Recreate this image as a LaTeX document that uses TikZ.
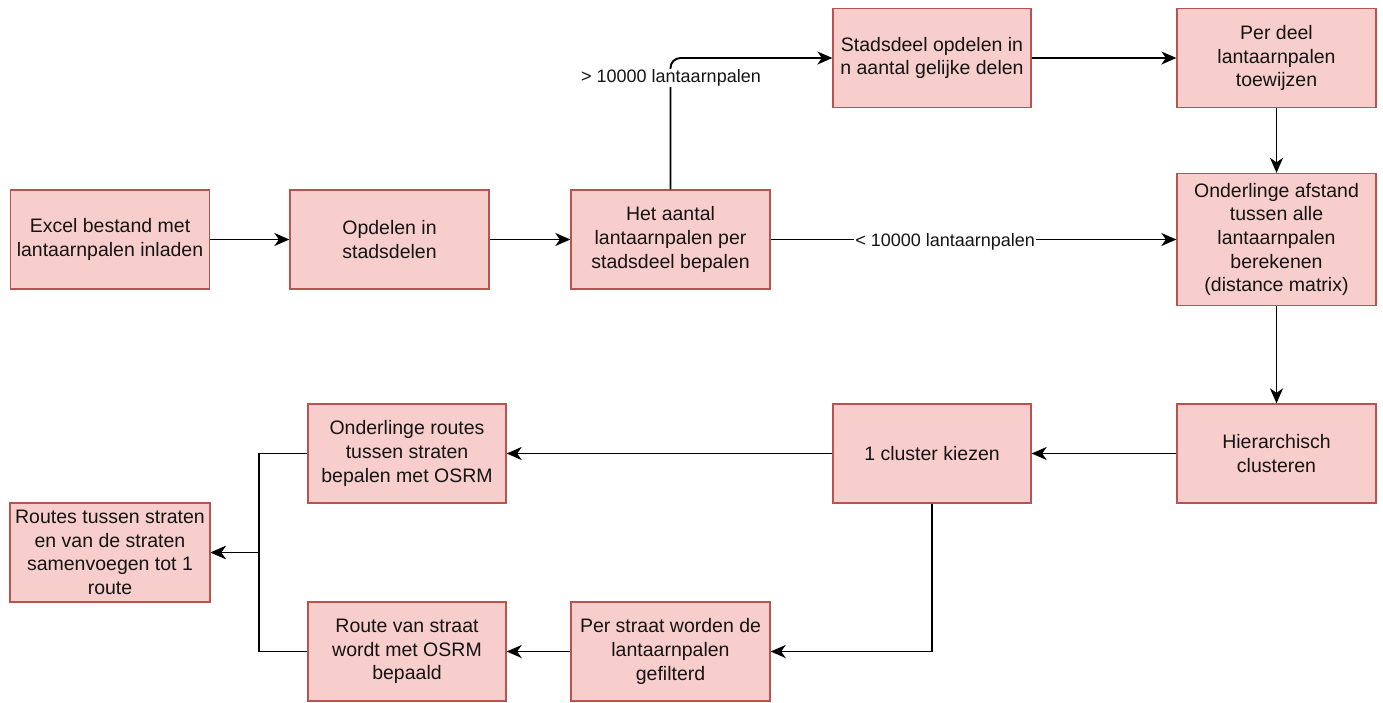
\documentclass[tikz,border=0pt]{standalone}
\usepackage{fontspec}
\setmainfont{Liberation Sans}
\usetikzlibrary{arrows.meta}
\definecolor{boxfill}{HTML}{F8CECC}
\definecolor{boxline}{HTML}{B85450}
\definecolor{ink}{HTML}{141414}
\begin{document}
\begin{tikzpicture}[x=1pt,y=-1pt,
  stepbox/.style={draw=boxline,fill=boxfill,line width=1.3pt,inner sep=0pt,
    minimum width=199pt,minimum height=99pt,align=center,text=ink,
    font=\fontsize{19.5}{23.6}\selectfont},
  flow/.style={draw=black,line width=1.9pt,
    -{Stealth[length=15pt,width=13pt,inset=4.5pt]}},
  edgelbl/.style={fill=white,inner sep=1pt,text=ink,
    font=\fontsize{18}{21.6}\selectfont}]
\useasboundingbox (0,0) rectangle (1383,703);

% process steps
\node[stepbox] (load)    at (110,239.5)   {Excel bestand met\\lantaarnpalen inladen};
\node[stepbox] (split)   at (389.5,239.5) {Opdelen in\\stadsdelen};
\node[stepbox] (count)   at (670.5,239.5) {Het aantal\\lantaarnpalen per\\stadsdeel bepalen};
\node[stepbox,minimum width=198pt] (divide) at (932,58) {Stadsdeel opdelen in\\n aantal gelijke delen};
\node[stepbox] (assign)  at (1276.5,58)   {Per deel\\lantaarnpalen\\toewijzen};
\node[stepbox,minimum height=132pt] (dist) at (1276.5,239.5) {Onderlinge afstand\\tussen alle\\lantaarnpalen\\berekenen\\(distance matrix)};
\node[stepbox] (hier)    at (1276.5,453.5) {Hierarchisch\\clusteren};
\node[stepbox,minimum width=198pt] (pick) at (932,453.5) {1 cluster kiezen};
\node[stepbox,minimum width=198pt] (between) at (407,453.5) {Onderlinge routes\\tussen straten\\bepalen met OSRM};
\node[stepbox,minimum width=200pt] (merge) at (110,552.5) {Routes tussen straten\\en van de straten\\samenvoegen tot 1\\route};
\node[stepbox] (filter)  at (670.5,651.5) {Per straat worden de\\lantaarnpalen\\gefilterd};
\node[stepbox,minimum width=198pt] (street) at (407,651.5) {Route van straat\\wordt met OSRM\\bepaald};

% junction where both route results meet
\coordinate (bus) at (259,552.5);

% connectors
\draw[flow] (load) -- (split);
\draw[flow] (split) -- (count);
\draw[flow,rounded corners=10pt] (count.north) |- (divide.west);
\node[edgelbl] (gt) at (671,78) {> 10000 lantaarnpalen};
\draw[flow] (divide) -- (assign);
\draw[flow] (assign) -- (dist);
\draw[flow] (count) -- node[edgelbl,pos=0.43,yshift=-2pt] (lt) {< 10000 lantaarnpalen} (dist);
\draw[flow] (dist) -- (hier);
\draw[flow] (hier) -- (pick);
\draw[flow] (pick) -- (between);
\draw[flow] (pick.south) |- (filter.east);
\draw[flow] (filter) -- (street);
\draw[flow] (between.west) -| (bus) -- (merge.east);
\draw[flow] (street.west) -| (bus) -- (merge.east);
\end{tikzpicture}
\end{document}
